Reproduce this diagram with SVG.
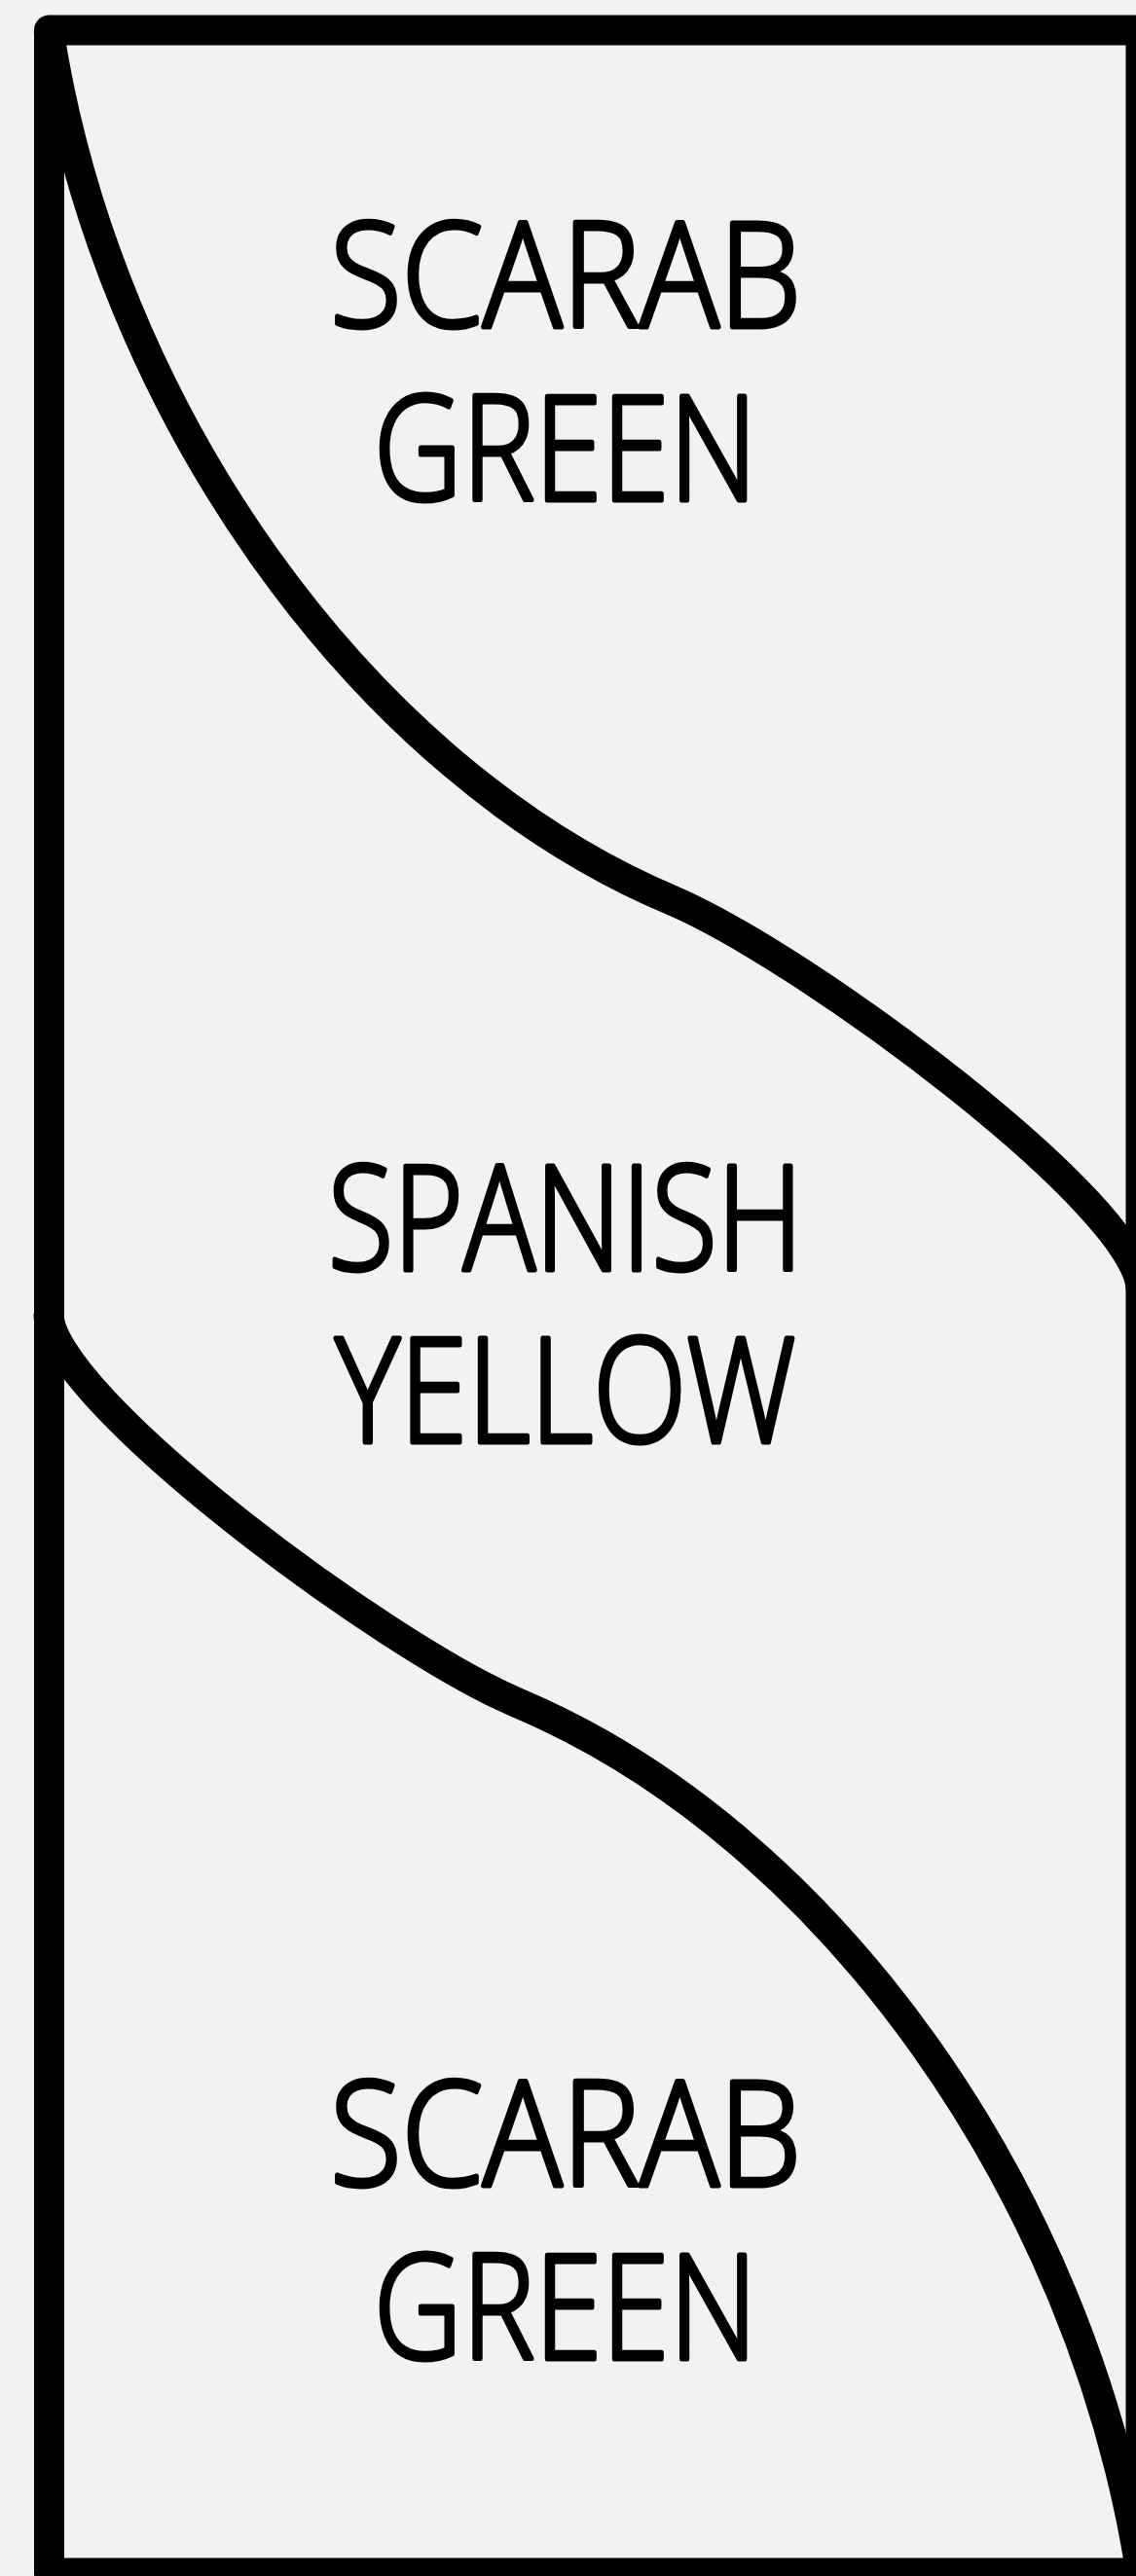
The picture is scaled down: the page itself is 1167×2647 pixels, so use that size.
<svg xmlns="http://www.w3.org/2000/svg" width="1167" height="2647" viewBox="0 0 1167 2647">
  <style>
    .line { fill: none; stroke: #000; stroke-width: 31; stroke-linejoin: round; }
    .lbl { font-family: "Open Sans", "DejaVu Sans", sans-serif; font-weight: 300; font-size: 150px; fill: #000; stroke: #000; stroke-width: 5; stroke-linejoin: round; stroke-linecap: round; text-anchor: middle; }
  </style>
  <rect x="0" y="0" width="1167" height="2647" fill="#f2f2f2"/>
  <g id="frame">
    <rect class="line" x="50.5" y="31" width="1121.5" height="2613"/>
  </g>
  <g id="connectors">
    <path id="curve-top" class="line" d="M 50 31 C 110 420 370 790 690 925 C 830 985 1172 1240 1172 1325"/>
    <path id="curve-bottom" class="line" d="M 50 31 C 110 420 370 790 690 925 C 830 985 1172 1240 1172 1325" transform="rotate(180 611 1337.5)"/>
  </g>
  <g id="node-scarab-top">
    <text class="lbl" x="581" y="336" textLength="484" lengthAdjust="spacingAndGlyphs">SCARAB</text>
    <text class="lbl" x="581" y="514" textLength="394" lengthAdjust="spacingAndGlyphs">GREEN</text>
  </g>
  <g id="node-spanish">
    <text class="lbl" x="581" y="1305" textLength="488" lengthAdjust="spacingAndGlyphs">SPANISH</text>
    <text class="lbl" x="581" y="1482" textLength="473" lengthAdjust="spacingAndGlyphs">YELLOW</text>
  </g>
  <g id="node-scarab-bottom">
    <text class="lbl" x="581" y="2246" textLength="484" lengthAdjust="spacingAndGlyphs">SCARAB</text>
    <text class="lbl" x="581" y="2424" textLength="394" lengthAdjust="spacingAndGlyphs">GREEN</text>
  </g>
</svg>
